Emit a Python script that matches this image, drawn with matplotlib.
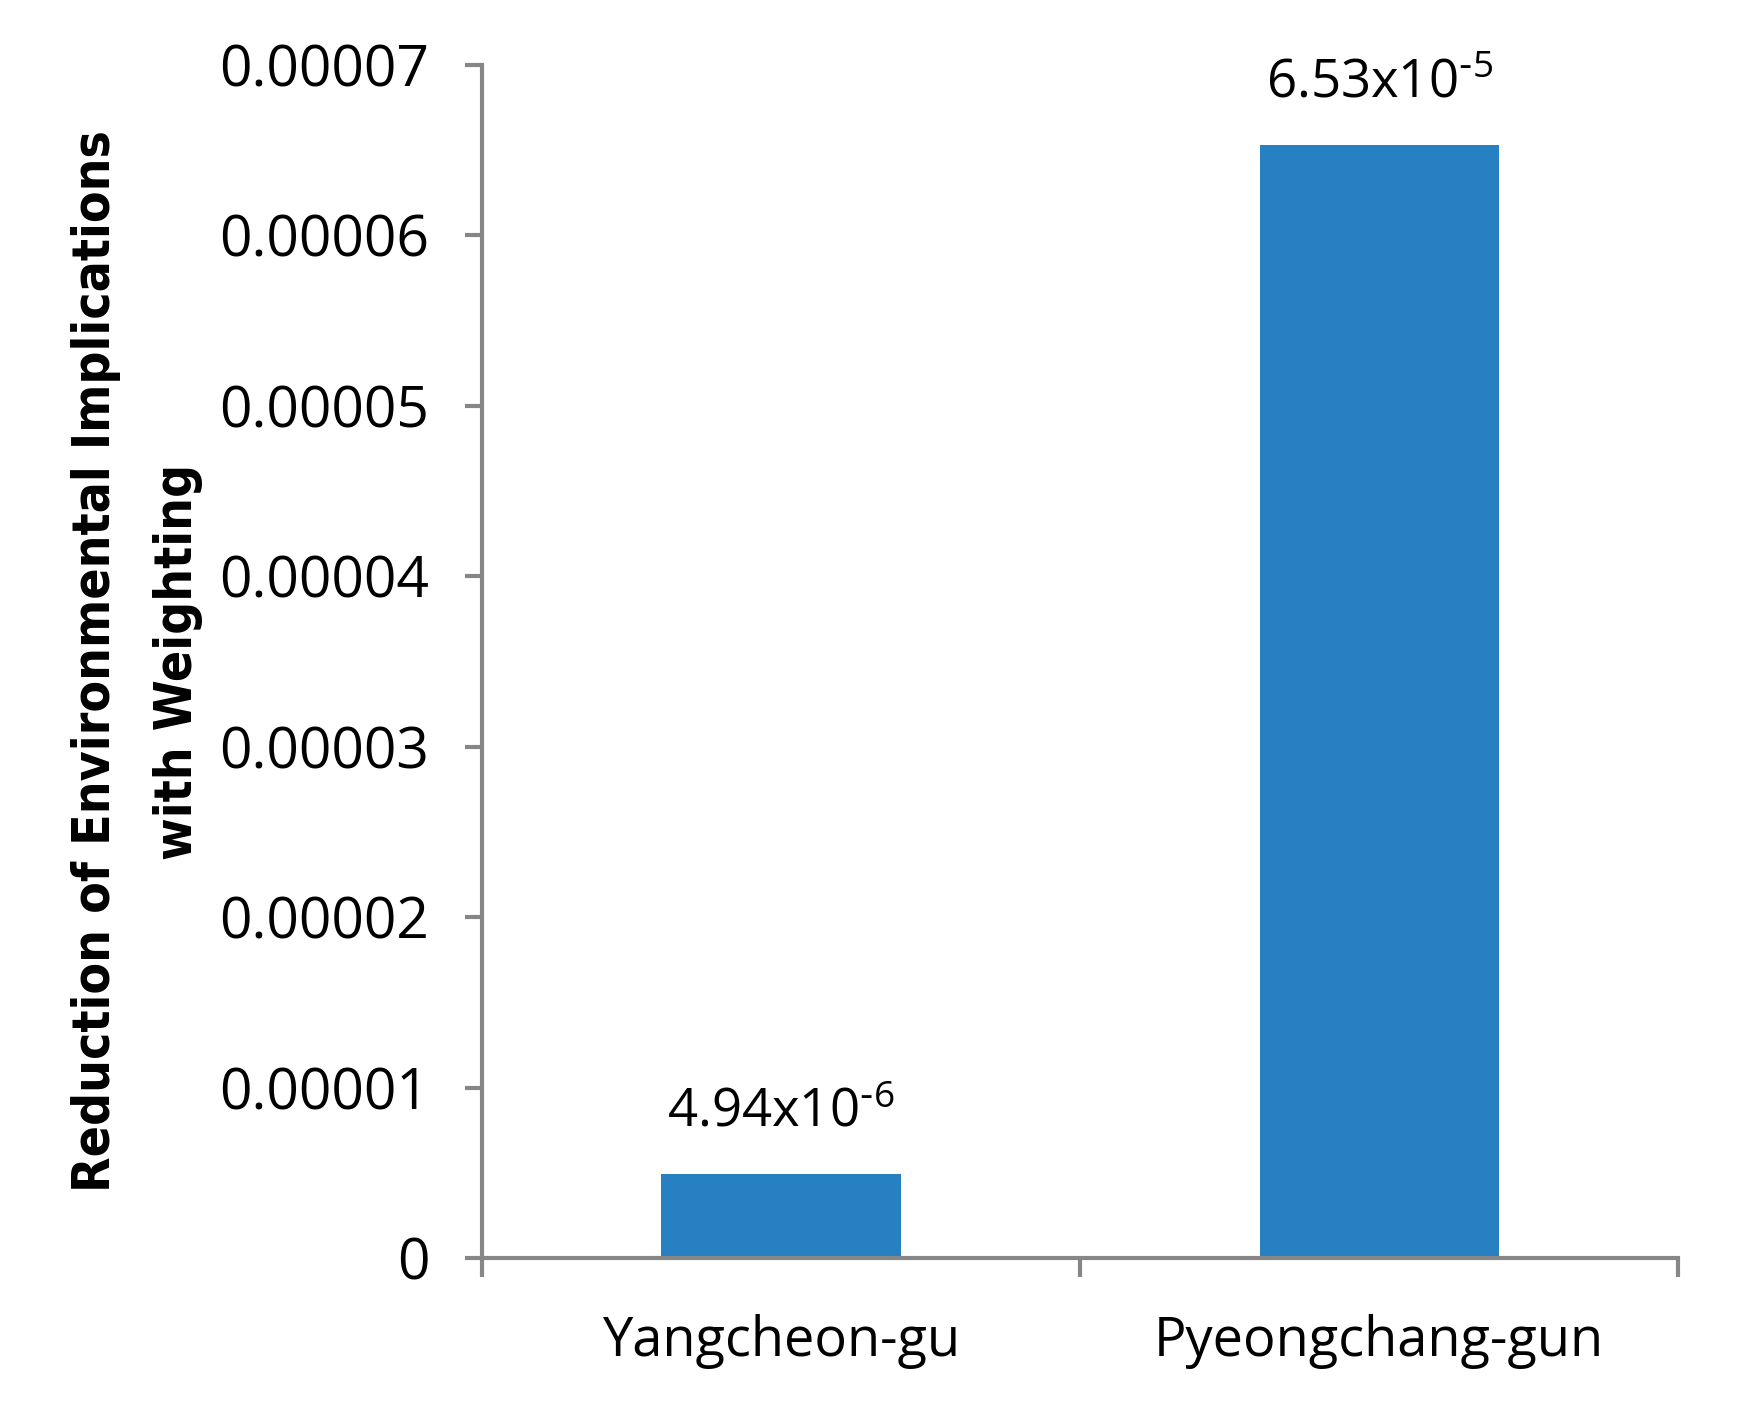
import matplotlib
matplotlib.use("Agg")
import matplotlib.pyplot as plt

# Datos del gráfico
regiones = ["Yangcheon-gu", "Pyeongchang-gun"]
valores = [4.94e-6, 6.53e-5]
etiquetas = [r"4.94x10$^{\text{-}6}$", r"6.53x10$^{\text{-}5}$"]
yticks = [0, 0.00001, 0.00002, 0.00003, 0.00004, 0.00005, 0.00006, 0.00007]
ytick_labels = ["0", "0.00001", "0.00002", "0.00003", "0.00004", "0.00005", "0.00006", "0.00007"]

plt.rcParams["font.family"] = ["Open Sans", "DejaVu Sans"]
plt.rcParams["mathtext.default"] = "regular"

color_barra = "#2680c2"
color_eje = "#868686"

fig = plt.figure(figsize=(17.39, 14.09), dpi=100)
ax = fig.add_axes([0.2772, 0.1072, 0.6878, 0.8467])

pos = [0.5, 1.5]
ax.bar(pos, valores, width=0.4, color=color_barra)

# Etiquetas de valor sobre las barras
for x, v, t in zip(pos, valores, etiquetas):
    ax.text(x, v + 0.0000020, t, ha="center", va="bottom", fontsize=38)

ax.set_xlim(0, 2)
ax.set_ylim(0, 0.00007)
ax.set_yticks(yticks)
ax.set_yticklabels(ytick_labels, fontsize=41)
ax.set_xticks([0, 1, 2])
ax.set_xticklabels([])
ax.set_xticks(pos, minor=True)
ax.set_xticklabels(regiones, minor=True, fontsize=39)
ax.tick_params(axis="x", which="minor", length=0, pad=40)
ax.tick_params(axis="x", which="major", length=14, width=3, color=color_eje)
ax.tick_params(axis="y", length=12, width=3, color=color_eje, pad=26)

for s in ["top", "right"]:
    ax.spines[s].set_visible(False)
for s in ["left", "bottom"]:
    ax.spines[s].set_color(color_eje)
    ax.spines[s].set_linewidth(3)

ax.set_ylabel("Reduction of Environmental Implications\nwith Weighting",
              fontsize=37, fontweight="bold", fontstretch="condensed", linespacing=1.8,
              family=["Liberation Sans Narrow", "DejaVu Sans"], labelpad=12)

fig.savefig("out.png", dpi=100)
